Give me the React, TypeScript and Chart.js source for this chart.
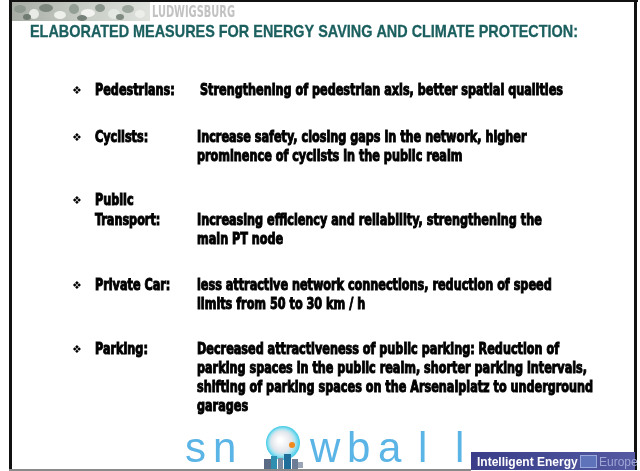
import React, { useEffect, useRef } from "react";
import { Chart, registerables } from "chart.js";

Chart.register(...registerables);

// ---- content ----
const cityName = "LUDWIGSBURG";
const headerTitle = "ELABORATED MEASURES FOR ENERGY SAVING AND CLIMATE PROTECTION:";
const categories: string[][] = [
  ["Pedestrians:"],
  ["Cyclists:"],
  ["Public", "Transport:"],
  ["Private Car:"],
  ["Parking:"],
];
const descriptions: string[][] = [
  ["Strengthening of pedestrian axis, better spatial qualities"],
  ["Increase safety, closing gaps in the network, higher", "prominence of cyclists in the public realm"],
  ["Increasing efficiency and reliability, strengthening the", "main PT node"],
  ["less attractive network connections, reduction of speed", "limits from 50 to 30 km / h"],
  [
    "Decreased attractiveness of public parking: Reduction of",
    "parking spaces in the public realm, shorter parking intervals,",
    "shifting of parking spaces on the Arsenalplatz to underground",
    "garages",
  ],
];
const logoLetters = ["s", "n", "w", "b", "a", "l", "l"];
const footerProgramme = ["Intelligent Energy", "Europe"];

// ---- layout (styling, not data) ----
const rowTop = [95, 142, 205, 290, 354];
const lineGap = 19;
const bulletX = 72;
const labelX = 95;
const descX = 197;
const descXFirst = 200;
const refDescWidth = 363; // width of the first description line in the slide
const titleWidth = 548;
const cityWidth = 83;
const letterX = [185, 213, 310, 347, 378, 418, 455];
const BODY_FONT = 'bold 16px "Liberation Sans Narrow", "DejaVu Sans Condensed", "Arial Narrow", sans-serif';

function drawScaled(
  ctx: CanvasRenderingContext2D,
  text: string,
  x: number,
  y: number,
  sx: number,
  stroke = 0
) {
  ctx.save();
  ctx.translate(x, y);
  ctx.scale(sx, 1);
  ctx.fillText(text, 0, 0);
  if (stroke > 0) {
    ctx.lineWidth = stroke;
    ctx.strokeText(text, 0, 0);
  }
  ctx.restore();
}

function drawSlide(chart: Chart) {
  const ctx = chart.ctx;
  ctx.save();
  ctx.textBaseline = "alphabetic";
  ctx.fillStyle = "#ffffff";
  ctx.fillRect(0, 0, 640, 471);

  // header photo strip
  const g = ctx.createLinearGradient(12, 0, 150, 0);
  g.addColorStop(0, "#a7ada5");
  g.addColorStop(0.5, "#c7ccc4");
  g.addColorStop(1, "#dfe2dd");
  ctx.fillStyle = g;
  ctx.fillRect(12, 2, 138, 19);
  const blobs = [
    [20, 9, 6, 4, "#8f998f"], [34, 14, 5, 5, "#e9ece6"], [46, 8, 7, 4, "#7d877e"],
    [60, 15, 6, 4, "#eef0ec"], [74, 9, 5, 5, "#939e94"], [88, 13, 7, 4, "#f2f3f0"],
    [100, 8, 5, 4, "#8a958b"], [114, 14, 6, 5, "#e4e8e2"], [128, 9, 6, 4, "#9da79d"],
    [140, 14, 5, 4, "#eceeea"], [27, 17, 4, 3, "#6f7a71"], [82, 18, 5, 3, "#76817a"],
    [120, 17, 4, 3, "#7f8a80"],
  ] as [number, number, number, number, string][];
  blobs.forEach(([x, y, rx, ry, c]) => {
    ctx.fillStyle = c;
    ctx.beginPath();
    ctx.ellipse(x, y, rx, ry, 0, 0, Math.PI * 2);
    ctx.fill();
  });

  // frame
  ctx.fillStyle = "#111111";
  ctx.fillRect(10, 0, 628, 2);
  ctx.fillRect(9, 0, 3, 470);
  ctx.fillRect(634, 0, 3, 470);

  // city name
  ctx.fillStyle = "#c2c2c2";
  ctx.font = 'bold 16px "Liberation Sans Narrow", "DejaVu Sans Condensed", sans-serif';
  drawScaled(ctx, cityName, 152, 17, cityWidth / ctx.measureText(cityName).width);

  // title
  ctx.fillStyle = "#1b5f5f";
  ctx.strokeStyle = "#1b5f5f";
  ctx.font = 'bold 17px "Liberation Sans", Arial, sans-serif';
  drawScaled(ctx, headerTitle, 30, 37, titleWidth / ctx.measureText(headerTitle).width, 0.3);

  // bullets, labels, descriptions
  ctx.font = BODY_FONT;
  const sx = refDescWidth / ctx.measureText(descriptions[0][0]).width;
  ctx.strokeStyle = "#000000";
  categories.forEach((lab, i) => {
    const top = rowTop[i];
    ctx.fillStyle = "#000000";
    ctx.font = '11px "DejaVu Sans", sans-serif';
    ctx.fillText("\u2756", bulletX, top - 1);
    ctx.font = BODY_FONT;
    lab.forEach((t, j) => {
      drawScaled(ctx, t, labelX, top + j * (lineGap + 1), sx, 1.0);
    });
    const descTop = top + (lab.length - 1) * (lineGap + 1);
    descriptions[i].forEach((t, j) => {
      drawScaled(ctx, t, i === 0 ? descXFirst : descX, descTop + j * lineGap, sx, 1.0);
    });
  });

  // snowball logo text
  ctx.fillStyle = "#5ab4e6";
  ctx.font = '42px "Liberation Sans", Arial, sans-serif';
  logoLetters.forEach((ch, i) => ctx.fillText(ch, letterX[i], 462));

  // snowball emblem
  const cx = 283, cy = 443;
  const rg = ctx.createRadialGradient(cx - 3, cy - 3, 2, cx, cy, 17);
  rg.addColorStop(0, "#ffffff");
  rg.addColorStop(0.55, "#e2e6ec");
  rg.addColorStop(0.75, "#a6e4f1");
  rg.addColorStop(1, "#3ec9e6");
  ctx.fillStyle = rg;
  ctx.beginPath();
  ctx.arc(cx, cy, 17, 0, Math.PI * 2);
  ctx.fill();
  ctx.fillStyle = "#f08a1e";
  ctx.beginPath();
  ctx.arc(cx + 9, cy + 2, 3, 0, Math.PI * 2);
  ctx.fill();
  const figs = [
    [264, 459, 7, 10, "#5b6b86"], [271, 456, 6, 13, "#2f8fb0"], [278, 458, 5, 11, "#7a8aa0"],
    [284, 454, 7, 15, "#1f6f9a"], [292, 459, 6, 10, "#6d7d95"], [298, 462, 5, 6, "#9aa6b6"],
  ] as [number, number, number, number, string][];
  figs.forEach(([x, y, w, h, c]) => {
    ctx.fillStyle = c;
    ctx.fillRect(x, y, w, h);
  });

  // Intelligent Energy Europe banner
  const bg = ctx.createLinearGradient(471, 452, 635, 470);
  bg.addColorStop(0, "#3a3e88");
  bg.addColorStop(0.5, "#464b96");
  bg.addColorStop(1, "#555aa2");
  ctx.fillStyle = bg;
  ctx.fillRect(471, 452, 164, 18);
  ctx.fillStyle = "#ffffff";
  ctx.font = 'bold 12px "Liberation Sans", Arial, sans-serif';
  ctx.fillText(footerProgramme[0], 477, 466);
  ctx.fillStyle = "#5f73bb";
  ctx.fillRect(580, 455, 17, 13);
  ctx.strokeStyle = "#9aa9dc";
  ctx.lineWidth = 1;
  ctx.strokeRect(580.5, 455.5, 16, 12);
  ctx.fillStyle = "#9ea6d6";
  ctx.font = '12px "Liberation Sans", Arial, sans-serif';
  ctx.fillText(footerProgramme[1], 599, 466);

  // bottom line
  ctx.fillStyle = "#8a8a8a";
  ctx.fillRect(9, 469, 462, 2);
  ctx.restore();
}

export default function App() {
  const ref = useRef<HTMLCanvasElement | null>(null);
  useEffect(() => {
    if (!ref.current) return;
    const chart = new Chart(ref.current, {
      type: "scatter",
      data: { datasets: [] },
      options: {
        animation: false,
        responsive: false,
        maintainAspectRatio: false,
        events: [],
        layout: { padding: 0 },
        plugins: { legend: { display: false }, tooltip: { enabled: false }, title: { display: false } },
        scales: { x: { display: false }, y: { display: false } },
      },
      plugins: [{ id: "slide", beforeDraw: (c: Chart) => drawSlide(c) }],
    });
    return () => chart.destroy();
  }, []);
  return (
    <div style={{ position: "fixed", left: 0, top: 0, width: 640, height: 471 }}>
      <canvas ref={ref} width={640} height={471} style={{ display: "block" }} />
    </div>
  );
}
